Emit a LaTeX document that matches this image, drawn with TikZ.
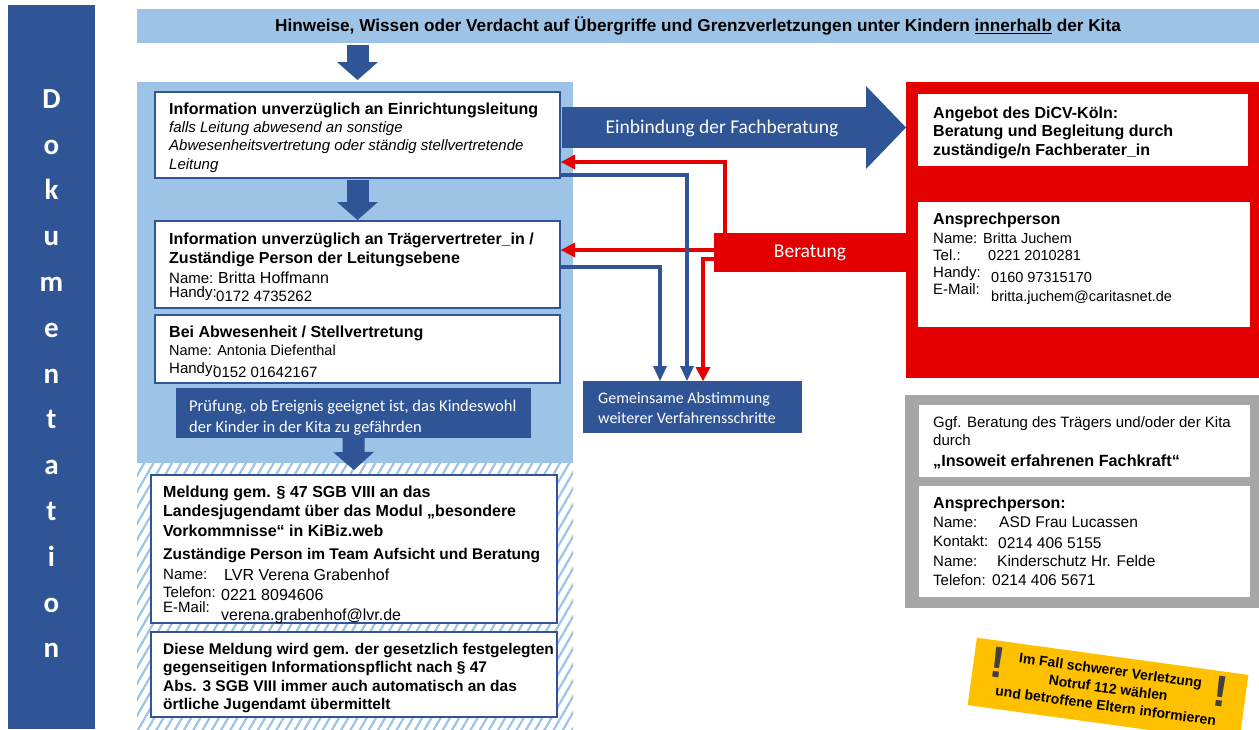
\documentclass[tikz,border=0pt]{standalone}
\usepackage{fontspec}
\setmainfont{Liberation Sans}
\newfontfamily\calib{Carlito}
\usetikzlibrary{arrows.meta,patterns.meta}

\definecolor{kblue}{RGB}{47,85,151}
\definecolor{klight}{RGB}{157,195,230}
\definecolor{kred}{RGB}{228,0,0}
\definecolor{kgray}{RGB}{166,166,166}
\definecolor{kyellow}{RGB}{255,192,0}
\definecolor{kexcl}{RGB}{64,64,64}

\newcommand{\fsz}[2]{\fontsize{#1}{#2}\selectfont}
\newcommand{\firststrut}{\rule{0pt}{13pt}}
\newcommand{\itline}{\itshape\fsz{15}{18.3}}
% label in a box of fixed width, value lowered by #4
\newcommand{\fieldline}[5]{\makebox[#1][l]{\fsz{#2}{#2}#3}\smash{\raisebox{#4}{#5}}}

\begin{document}
\begin{tikzpicture}[x=1pt,y=-1pt,
  plainbox/.style={rectangle, inner sep=0pt, outer sep=0pt},
  bluebox/.style={plainbox, draw=kblue, line width=1.5pt, fill=white},
  whitebox/.style={plainbox, fill=white},
  txt/.style={inner sep=0pt, anchor=north west, align=left, text=black},
  downarrow/.style={draw=kblue, line width=22pt, -{Triangle[length=18pt,width=41pt,line width=0pt]}},
  bigarrow/.style={draw=kblue, line width=41pt, -{Triangle[length=40pt,width=83pt,line width=0pt]}},
  bluecon/.style={draw=kblue, line width=4pt, -{Triangle[length=15pt,width=14pt,line width=0pt]}},
  redcon/.style={draw=kred, line width=4.5pt, -{Triangle[length=14pt,width=15pt,line width=0pt]}},
]
\useasboundingbox (0,0) rectangle (1259,729);
\fill[white] (0,0) rectangle (1259,729);

% vertical documentation bar
\node[plainbox, fill=kblue, minimum width=87pt, minimum height=724pt] (doku) at (51.5,367) {};
\node[inner sep=0pt, anchor=north, align=center, text=white, font=\calib\bfseries\fsz{29}{45.8}] (dokutext) at (51.5,89)
  {\rule{0pt}{19pt}D\\o\\k\\u\\m\\e\\n\\t\\a\\t\\i\\o\\n};

% heading banner
\node[plainbox, fill=klight, minimum width=1122pt, minimum height=34pt, font=\bfseries\fsz{17.2}{19}] (banner) at (698,26)
  {Hinweise, Wissen oder Verdacht auf Übergriffe und Grenzverletzungen unter Kindern \underline{innerhalb} der Kita};

% background panels
\node[plainbox, fill=klight, minimum width=436pt, minimum height=381pt] (kita) at (355,272.5) {};
\node[plainbox, fill=white, minimum width=436pt, minimum height=266pt] (lvrbg) at (355,596) {};
\node[plainbox, pattern={Lines[angle=60,distance=8pt,line width=2.2pt]}, pattern color=klight,
      minimum width=436pt, minimum height=266pt] (lvr) at (355,596) {};
\node[plainbox, fill=kred, minimum width=353pt, minimum height=296pt] (dicv) at (1082.5,230) {};
\node[plainbox, fill=kgray, minimum width=354pt, minimum height=213pt] (fachkraft) at (1082,501.5) {};

% Kita chain
\node[bluebox, minimum width=405pt, minimum height=86pt] (b1) at (357.5,135) {};
\node[txt, font=\fsz{16}{18.3}] (b1t) at (169,101)
  {\firststrut\textbf{Information unverzüglich an Einrichtungsleitung}\\
   {\itline falls Leitung abwesend an sonstige}\\
   {\itline Abwesenheitsvertretung oder ständig stellvertretende}\\
   {\itline Leitung}};

\node[bluebox, minimum width=405pt, minimum height=87pt] (b2) at (357.5,264.5) {};
\node[txt, font=\fsz{16}{19.5}] (b2t) at (169,231)
  {\firststrut\textbf{Information unverzüglich an Trägervertreter\_in /}\\
   \textbf{Zuständige Person der Leitungsebene}\\
   \fieldline{49pt}{15}{Name:}{0pt}{Britta Hoffmann}\\[-5pt]
   \fieldline{47pt}{15}{Handy:}{-4pt}{\fsz{15}{16}0172 4735262}};

\node[bluebox, minimum width=405pt, minimum height=68pt] (b3) at (357.5,349) {};
\node[txt, font=\fsz{16}{18}] (b3t) at (169,324)
  {\firststrut\textbf{Bei Abwesenheit / Stellvertretung}\\
   {\fsz{14.5}{18}Name: Antonia Diefenthal}\\
   \fieldline{44pt}{15}{Handy:}{-4pt}{\fsz{15}{16}0152 01642167}};

\node[plainbox, fill=kblue, minimum width=355pt, minimum height=50pt] (pr) at (353.5,413) {};
\node[txt, text=white, font=\calib\fsz{16.5}{21}] (prt) at (189,398)
  {\firststrut Prüfung, ob Ereignis geeignet ist, das Kindeswohl\\der Kinder in der Kita zu gefährden};

\node[bluebox, minimum width=406pt, minimum height=148pt] (b4) at (354,549) {};
\node[txt, font=\fsz{16}{19.5}] (b4t) at (163,484)
  {\firststrut\textbf{Meldung gem. § 47 SGB VIII an das}\\
   \textbf{Landesjugendamt über das Modul „besondere}\\
   \textbf{Vorkommnisse“ in KiBiz.web}\\[3.5pt]
   {\bfseries\fsz{15.5}{19.5}Zuständige Person im Team Aufsicht und Beratung}\\[0.5pt]
   \fieldline{61pt}{15}{Name:}{-1pt}{LVR Verena Grabenhof}\\[-1.5pt]
   \fieldline{58pt}{15}{Telefon:}{-3pt}{0221 8094606}\\[-4.5pt]
   \fieldline{58pt}{15}{E-Mail:}{-8pt}{verena.grabenhof@lvr.de}};

\node[bluebox, minimum width=406pt, minimum height=85pt] (b5) at (354,674.5) {};
\node[txt, font=\bfseries\fsz{15.5}{18.4}] (b5t) at (163,641)
  {\firststrut Diese Meldung wird gem. der gesetzlich festgelegten\\
   gegenseitigen Informationspflicht nach § 47\\
   Abs. 3 SGB VIII immer auch automatisch an das\\
   örtliche Jugendamt übermittelt};

% DiCV panel contents
\node[whitebox, minimum width=330pt, minimum height=72pt] (ra) at (1083,130) {};
\node[txt, font=\bfseries\fsz{16}{18.5}] (rat) at (933,105)
  {\firststrut Angebot des DiCV-Köln:\\Beratung und Begleitung durch\\zuständige/n Fachberater\_in};

\node[whitebox, minimum width=332pt, minimum height=125pt] (rb) at (1084,264.5) {};
\node[txt, font=\fsz{14.5}{17}] (rbt) at (933,211)
  {\firststrut{\bfseries\fsz{16}{17}Ansprechperson}\\[2pt]
   \fieldline{50pt}{15}{Name:}{0pt}{Britta Juchem}\\
   \fieldline{55pt}{15}{Tel.:}{0pt}{0221 2010281}\\
   \fieldline{58pt}{15}{Handy:}{-5pt}{0160 97315170}\\
   \fieldline{58pt}{15}{E-Mail:}{-7pt}{britta.juchem@caritasnet.de}};

% Fachkraft panel contents
\node[whitebox, minimum width=331pt, minimum height=72pt] (ga) at (1084.5,441) {};
\node[txt, font=\fsz{15}{18.5}] (gat) at (933,414)
  {\firststrut Ggf. Beratung des Trägers und/oder der Kita\\
   durch\\[2.5pt]
   {\bfseries\fsz{16.2}{18.5}„Insoweit erfahrenen Fachkraft“}};

\node[whitebox, minimum width=331pt, minimum height=111pt] (gb) at (1084.5,541.5) {};
\node[txt, font=\fsz{15.5}{19.3}] (gbt) at (933,495)
  {\firststrut{\bfseries\fsz{16}{19.3}Ansprechperson:}\\
   \fieldline{66pt}{15}{Name:}{0pt}{ASD Frau Lucassen}\\
   \fieldline{65pt}{15}{Kontakt:}{-2pt}{0214 406 5155}\\
   \fieldline{64pt}{15}{Name:}{0pt}{Kinderschutz Hr. Felde}\\
   \fieldline{59pt}{15}{Telefon:}{0pt}{0214 406 5671}};

% joint coordination box
\node[plainbox, fill=kblue, minimum width=219pt, minimum height=52pt] (gem) at (692.5,407) {};
\node[txt, text=white, font=\calib\fsz{16}{20}] (gemt) at (598,390)
  {\firststrut Gemeinsame Abstimmung\\weiterer Verfahrensschritte};

% block arrows down the Kita chain
\draw[downarrow, shorten <=2pt, shorten >=12pt] (banner.south -| b1.north) -- (b1.north);
\draw[downarrow, shorten <=1.5pt, shorten >=1pt] (b1.south) -- (b2.north);
\draw[downarrow, shorten >=5pt] (pr.south) -- (b4.north);

% Fachberatung arrow
\coordinate (einS) at ([yshift=7.5pt]b1.east);
\draw[bigarrow, shorten <=2pt] (einS) -- (einS -| dicv.west);
\node[text=white, font=\calib\fsz{19.5}{22}] (einl) at (722,128) {Einbindung der Fachberatung};

% Beratung bar
\node[plainbox, fill=kred, minimum width=192pt, minimum height=39pt, text=white, font=\calib\fsz{19.5}{22}] (ber) at (810,252.5) {Beratung};

% consultation connectors
\coordinate (r1) at ([xshift=11pt]ber.north west);
\coordinate (r2) at ([yshift=2.5pt]ber.west);
\coordinate (r3) at ([yshift=-6.5pt]ber.west);
\draw[redcon, shorten >=1pt] (r1) |- ([yshift=-27pt]b1.east);
\draw[redcon, shorten >=1pt] (r2) -- (r2 -| b2.east);
\draw[redcon] (r3) -| ([xshift=10.5pt]gem.north);
\draw[bluecon] ([yshift=3pt]b1.south east) -| ([xshift=-5.5pt]gem.north);
\draw[bluecon] ([yshift=-2.5pt]b2.east) -| ([xshift=-32.5pt]gem.north);

% emergency note
\begin{scope}[shift={(1108,690)}, rotate=-7.8, transform shape]
  \node[plainbox, fill=kyellow, minimum width=274pt, minimum height=68pt] (alarm) at (0,0) {};
  \node[inner sep=0pt, align=center, font=\bfseries\fsz{14}{18}] (alarmtext) at (0,-2)
    {Im Fall schwerer Verletzung\\Notruf 112 wählen\\und betroffene Eltern informieren};
  \node[inner sep=0pt, text=kexcl, font=\bfseries\fsz{44}{44}] (exl) at (-113,-12) {!};
  \node[inner sep=0pt, text=kexcl, font=\bfseries\fsz{44}{44}] (exr) at (112,-14) {!};
\end{scope}
\end{tikzpicture}
\end{document}
